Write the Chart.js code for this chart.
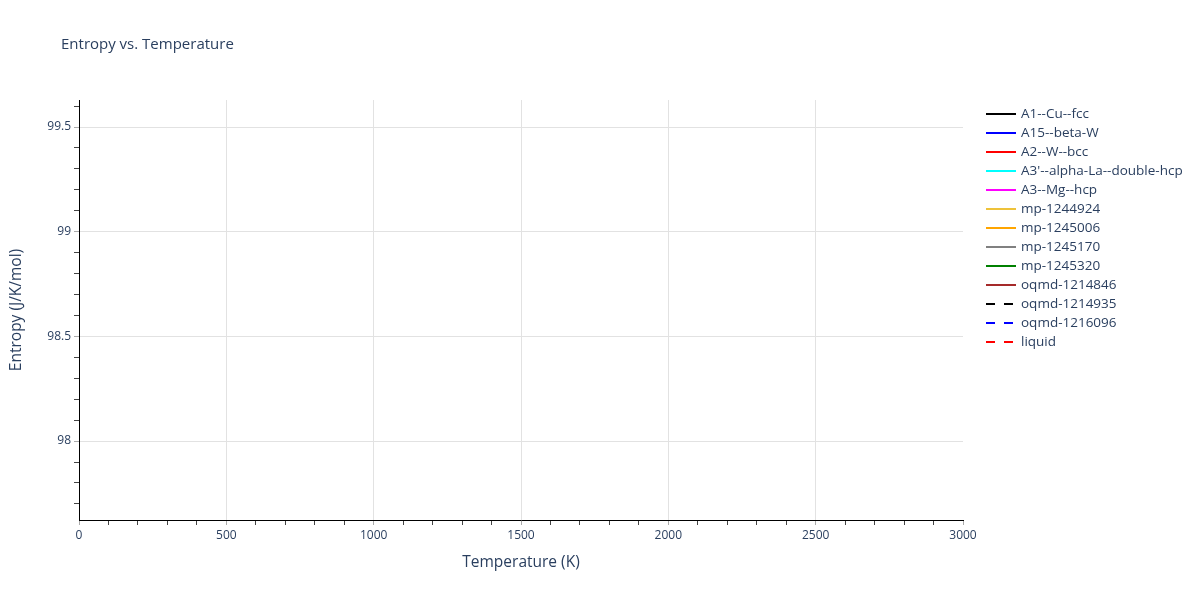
<!DOCTYPE html>
<html>
<head>
<meta charset="utf-8">
<script src="https://cdn.jsdelivr.net/npm/chart.js@4.4.1/dist/chart.umd.min.js"></script>
<style>
  html, body { margin: 0; padding: 0; background: #fff; }
  #wrap { width: 1200px; height: 600px; }
</style>
</head>
<body>
<div id="wrap"><canvas id="myChart" width="1200" height="600"></canvas></div>
<script>
// series shown in the legend (no curves are visible in the plot itself)
var seriesNames = ["A1--Cu--fcc", "A15--beta-W", "A2--W--bcc", "A3'--alpha-La--double-hcp",
  "A3--Mg--hcp", "mp-1244924", "mp-1245006", "mp-1245170", "mp-1245320",
  "oqmd-1214846", "oqmd-1214935", "oqmd-1216096", "liquid"];
var seriesColors = ["#000000", "#0000ff", "#ff0000", "#00ffff", "#ff00ff", "#eec23a",
  "#ffa500", "#808080", "#008000", "#a52a2a", "#000000", "#0000ff", "#ff0000"];
var seriesDashed = [false, false, false, false, false, false, false, false, false, false, true, true, true];
var temperatures = [];
var entropyValues = [];

// axis ranges and ticks
var xMin = 0, xMax = 3000;
var xTickValues = [];
for (var t = 0; t <= 3000; t += 100) xTickValues.push(t);
var xLabelValues = [0, 500, 1000, 1500, 2000, 2500, 3000];
var yMin = 97.623, yMax = 99.629;
var yTickValues = [97.7, 97.8, 97.9, 98, 98.1, 98.2, 98.3, 98.4, 98.5, 98.6, 98.7, 98.8,
  98.9, 99, 99.1, 99.2, 99.3, 99.4, 99.5, 99.6];
var yLabelValues = [98, 98.5, 99, 99.5];

var textColor = "#2a3f5f";
var fontFamily = "'Open Sans', verdana, arial, sans-serif";

function isLabel(list, v) {
  return list.some(function(l){ return Math.abs(l - v) < 1e-6; });
}

var datasets = seriesNames.map(function(name, i){
  return {
    label: name,
    data: temperatures.map(function(x, j){ return {x: x, y: entropyValues[j]}; }),
    borderColor: seriesColors[i],
    backgroundColor: seriesColors[i],
    borderWidth: 2,
    borderDash: seriesDashed[i] ? [9, 9] : [],
    pointRadius: 0,
    fill: false
  };
});

var titlePlugin = {
  id: "plotTitle",
  afterDraw: function(chart){
    var c = chart.ctx;
    c.save();
    c.fillStyle = textColor;
    c.font = "15px " + fontFamily;
    c.textBaseline = "middle";
    c.textAlign = "left";
    c.fillText("Entropy vs. Temperature", 61, 45);
    c.restore();
  }
};

var legendPlugin = {
  id: "sideLegend",
  afterDraw: function(chart){
    var c = chart.ctx;
    c.save();
    c.font = "13.5px " + fontFamily;
    c.textBaseline = "middle";
    c.textAlign = "left";
    chart.data.datasets.forEach(function(ds, i){
      var y = 114 + i * 19;
      c.beginPath();
      c.setLineDash(ds.borderDash);
      c.strokeStyle = ds.borderColor;
      c.lineWidth = 2;
      c.moveTo(986, y);
      c.lineTo(1016, y);
      c.stroke();
      c.setLineDash([]);
      c.fillStyle = textColor;
      c.fillText(ds.label, 1021, y);
    });
    c.restore();
  }
};

var ctx = document.getElementById("myChart");
var myChart = new Chart(ctx, {
  type: "line",
  data: { datasets: datasets },
  options: {
    responsive: false,
    animation: false,
    layout: { padding: { left: 0, right: 237, top: 100, bottom: 0 } },
    plugins: {
      legend: { display: false },
      title: { display: false },
      tooltip: { enabled: false }
    },
    scales: {
      x: {
        type: "linear",
        min: xMin,
        max: xMax,
        afterBuildTicks: function(axis){
          axis.ticks = xTickValues.map(function(v){ return {value: v}; });
        },
        afterFit: function(axis){ axis.height = 80; },
        border: { display: true, color: "#000", width: 1 },
        grid: {
          color: function(c){
            var v = c.tick ? c.tick.value : 0;
            return (isLabel(xLabelValues, v) && v !== xMax) ? "#e2e2e2" : "rgba(0,0,0,0)";
          },
          tickColor: function(c){
            var v = c.tick ? c.tick.value : 0;
            return isLabel(xLabelValues, v) ? "#aaaaaa" : "#444444";
          },
          tickLength: 5,
          lineWidth: 1
        },
        ticks: {
          autoSkip: false,
          maxRotation: 0,
          padding: 3,
          color: textColor,
          font: { size: 12, family: fontFamily },
          callback: function(v){ return isLabel(xLabelValues, v) ? String(v) : ""; }
        },
        title: {
          display: true,
          text: "Temperature (K)",
          color: textColor,
          font: { size: 15.5, family: fontFamily },
          padding: { top: 0, bottom: 27.7 }
        }
      },
      y: {
        type: "linear",
        min: yMin,
        max: yMax,
        afterBuildTicks: function(axis){
          axis.ticks = yTickValues.map(function(v){ return {value: v}; });
        },
        afterFit: function(axis){ axis.width = 79; },
        border: { display: true, color: "#000", width: 1 },
        grid: {
          color: function(c){
            var v = c.tick ? c.tick.value : 0;
            return isLabel(yLabelValues, v) ? "#e2e2e2" : "rgba(0,0,0,0)";
          },
          tickColor: function(c){
            var v = c.tick ? c.tick.value : 0;
            return isLabel(yLabelValues, v) ? "#aaaaaa" : "#444444";
          },
          tickLength: 5,
          lineWidth: 1
        },
        ticks: {
          autoSkip: false,
          padding: 3,
          color: textColor,
          font: { size: 12, family: fontFamily },
          callback: function(v){ return isLabel(yLabelValues, v) ? String(+v.toFixed(1)) : ""; }
        },
        title: {
          display: true,
          text: "Entropy (J/K/mol)",
          color: textColor,
          font: { size: 15.5, family: fontFamily },
          padding: { top: 7.2, bottom: 0 }
        }
      }
    }
  },
  plugins: [titlePlugin, legendPlugin]
});
</script>
</body>
</html>
